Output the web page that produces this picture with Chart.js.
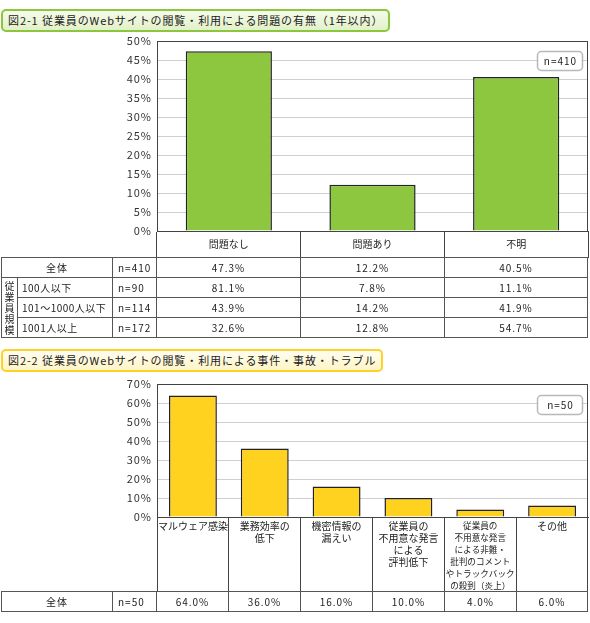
<!DOCTYPE html>
<html>
<head>
<meta charset="utf-8">
<script src="https://cdn.jsdelivr.net/npm/chart.js@4.4.0/dist/chart.umd.min.js"></script>
<style>
body { margin: 0; width: 590px; height: 623px; background: #fff; position: relative; overflow: hidden;
       font-family: 'Noto Sans CJK JP', sans-serif; color: #222; }
canvas { position: absolute; left: 0; }
.ttl { position: absolute; left: 1px; height: 19px; line-height: 19px; padding: 0 5px; font-size: 11px;
       letter-spacing: 0.9px; border-radius: 5px; white-space: nowrap; color: #222; }
#ttl1 { top: 9px; border: 2px solid #8cc63e; background: linear-gradient(#f5fbea, #e2f1c8); }
#ttl2 { top: 349px; border: 2px solid #fcd22a; background: linear-gradient(#fffdf2, #fff5c4); }
table { position: absolute; left: 1px; border-collapse: collapse; table-layout: fixed; font-size: 10px;
        letter-spacing: 1px; }
td { border: 1px solid #555; height: 19px; padding: 0; text-align: center; white-space: nowrap; overflow: hidden; }
td.l { text-align: left; padding-left: 4px; letter-spacing: 0.5px; }
td.n { text-align: left; padding-left: 5px; }
td.v { letter-spacing: 0; line-height: 11px; font-size: 10px; white-space: normal; }
</style>
</head>
<body>
<div class="ttl" id="ttl1">図2-1 従業員のWebサイトの閲覧・利用による問題の有無（1年以内）</div>
<canvas id="chart1" width="590" height="260" style="top:0"></canvas>
<table id="tbl1" style="top:257px;width:587px"></table>

<div class="ttl" id="ttl2">図2-2 従業員のWebサイトの閲覧・利用による事件・事故・トラブル</div>
<canvas id="chart2" width="590" height="224" style="top:370px"></canvas>
<table id="tbl2" style="top:591px;width:587px"></table>

<script>
// 図2-1
const cats1 = ['問題なし', '問題あり', '不明'];
const total1 = [47.3, 12.2, 40.5];
const n1 = 410;
const sizeTitle = '従業員規模';
const sizeLabels = ['100人以下', '101～1000人以下', '1001人以上'];
const sizeN = [90, 114, 172];
const under100 = [81.1, 7.8, 11.1];
const from101 = [43.9, 14.2, 41.9];
const over1000 = [32.6, 12.8, 54.7];

// 図2-2
const cats2 = [
    ['マルウェア感染'],
    ['業務効率の', '低下'],
    ['機密情報の', '漏えい'],
    ['従業員の', '不用意な発言', 'による', '評判低下'],
    ['従業員の', '不用意な発言', 'による非難・', '批判のコメント', 'やトラックバック', 'の殺到（炎上）'],
    ['その他']
];
const total2 = [64.0, 36.0, 16.0, 10.0, 4.0, 6.0];
const n2 = 50;

const FONT = "'Noto Sans CJK JP', sans-serif";
Chart.defaults.font.family = FONT;
Chart.defaults.color = '#222';

function pct(v) {
    return v.toFixed(1) + '%';
}

// frame round the plot, the n= box, letter spacing for the y labels
const decor = {
    id: 'decor',
    beforeDraw(chart) {
        chart.ctx.letterSpacing = '0px';
    },
    afterDatasetsDraw(chart) {
        // y tick labels are drawn after this (z: 1)
        chart.ctx.letterSpacing = '1px';
    },
    afterDraw(chart, args, opts) {
        const ctx = chart.ctx;
        const a = chart.chartArea;
        ctx.save();
        ctx.strokeStyle = '#444';
        ctx.lineWidth = 1;
        const l = Math.round(a.left) + 0.5, t = Math.round(a.top) + 0.5;
        const r = Math.round(a.right) - 0.5, b = Math.round(a.bottom) + 0.5;
        ctx.strokeRect(l, t, r - l, b - t);

        const w = 45, h = 19;
        const x = Math.round(a.right) - 6 - w, y = Math.round(a.top) + opts.top;
        ctx.beginPath();
        ctx.roundRect(x + 0.5, y + 0.5, w, h, 4);
        ctx.fillStyle = '#fff';
        ctx.fill();
        ctx.strokeStyle = '#b8b8b8';
        ctx.lineWidth = 1.5;
        ctx.stroke();
        ctx.fillStyle = '#222';
        ctx.font = '10px ' + FONT;
        ctx.letterSpacing = '1px';
        ctx.textAlign = 'center';
        ctx.textBaseline = 'middle';
        ctx.fillText(opts.text, x + w / 2 + 1, y + h / 2 + 1);
        ctx.restore();
        ctx.letterSpacing = '0px';
    }
};

function makeChart(id, cats, data, color, yMax, yStep, headerH, labelPad, barPct, boxTop, boxText, padTop, xFont) {
    return new Chart(document.getElementById(id), {
        type: 'bar',
        data: {
            labels: cats,
            datasets: [{
                data: data,
                backgroundColor: color,
                borderColor: '#222',
                borderWidth: 1.5,
                barPercentage: barPct,
                categoryPercentage: 1
            }]
        },
        options: {
            responsive: false,
            devicePixelRatio: 1,
            animation: false,
            layout: { padding: { top: padTop, right: 2, bottom: 2, left: 0 } },
            plugins: {
                legend: { display: false },
                tooltip: { enabled: false },
                decor: { text: boxText, top: boxTop }
            },
            scales: {
                x: {
                    afterFit: (s) => { s.height = headerH; },
                    border: { color: '#444' },
                    grid: { offset: true, drawOnChartArea: false, tickLength: headerH, color: '#444' },
                    ticks: {
                        padding: labelPad,
                        maxRotation: 0,
                        autoSkip: false,
                        font: xFont,
                        color: '#222'
                    }
                },
                y: {
                    min: 0,
                    max: yMax,
                    afterFit: (s) => { s.width = 157; },
                    border: { color: '#444' },
                    grid: { color: '#cfcfcf', drawTicks: false },
                    ticks: {
                        z: 1,
                        stepSize: yStep,
                        padding: 5,
                        font: { size: 11 },
                        color: '#333',
                        callback: (v) => v + '%'
                    }
                }
            }
        },
        plugins: [decor]
    });
}

makeChart('chart1', cats1, total1, '#8dc63f', 50, 5, 27, -20, 0.6, 10, 'n=' + n1, 41,
    { size: 10, lineHeight: 1.24 });
// the long 5th label needs a smaller size to fit its 72px column
makeChart('chart2', cats2, total2, '#ffd21f', 70, 10, 75, -72, 0.667, 11, 'n=' + n2, 14,
    (c) => c.index === 4 ? { size: 8.6, lineHeight: 12 / 8.6 } : { size: 10, lineHeight: 1.2 });

// tables under the charts
let h1 = '<colgroup><col style="width:16px"><col style="width:95px"><col style="width:44px">' +
    '<col style="width:144px"><col style="width:144px"><col style="width:143px"></colgroup>';
h1 += '<tr><td colspan="2">全体</td><td class="n">n=' + n1 + '</td>' +
    total1.map((v) => '<td>' + pct(v) + '</td>').join('') + '</tr>';
[under100, from101, over1000].forEach((vals, i) => {
    h1 += '<tr>' + (i === 0 ? '<td rowspan="3" class="v">' + sizeTitle.split('').join('<br>') + '</td>' : '') +
        '<td class="l">' + sizeLabels[i] + '</td><td class="n">n=' + sizeN[i] + '</td>' +
        vals.map((v) => '<td>' + pct(v) + '</td>').join('') + '</tr>';
});
document.getElementById('tbl1').innerHTML = h1;

let h2 = '<colgroup><col style="width:111px"><col style="width:44px">' +
    '<col style="width:72px"><col style="width:72px"><col style="width:72px"><col style="width:72px">' +
    '<col style="width:72px"><col style="width:71px"></colgroup>';
h2 += '<tr><td>全体</td><td class="n">n=' + n2 + '</td>' +
    total2.map((v) => '<td>' + pct(v) + '</td>').join('') + '</tr>';
document.getElementById('tbl2').innerHTML = h2;
</script>
</body>
</html>
